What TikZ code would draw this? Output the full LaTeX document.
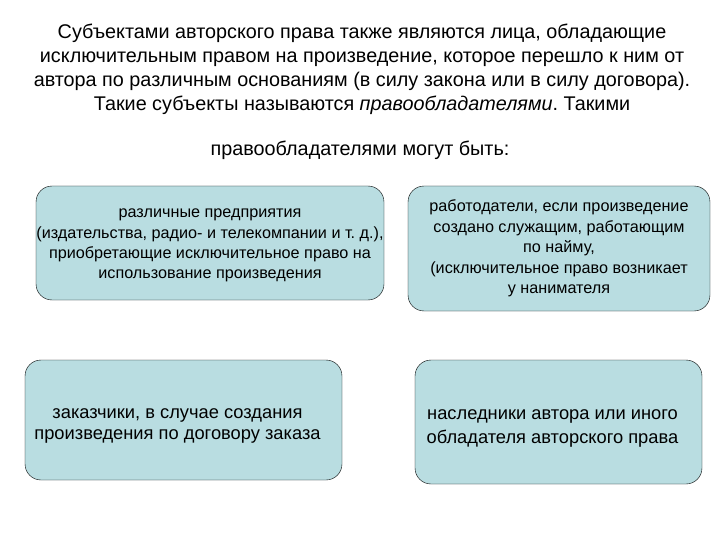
\documentclass[tikz,border=0pt]{standalone}
\usepackage{fontspec}
\setmainfont{Liberation Sans}
\usetikzlibrary{positioning}
\definecolor{boxfill}{RGB}{185,221,225}
\frenchspacing
\newcommand{\topgap}{\rule{0pt}{22pt}}
\tikzset{
  holder/.style={rounded corners=16pt, draw, fill=boxfill, inner sep=0pt, align=center},
  small/.style={font=\fontsize{16.2}{20.4}\selectfont},
  large/.style={font=\fontsize{18.3}{21.5}\selectfont}
}
\begin{document}
\begin{tikzpicture}[x=1pt,y=-1pt]
\useasboundingbox (0,0) rectangle (720,540);
% title
\node[align=center,font=\fontsize{19.8}{24}\selectfont] (T) at (362,69) {Субъектами авторского права также являются лица, обладающие\\исключительным правом на произведение, которое перешло к ним от\\автора по различным основаниям (в силу закона или в силу договора).\\Такие субъекты называются \textit{правообладателями}. Такими};
\node[font=\fontsize{19.8}{24}\selectfont] (T2) at (360,150) {правообладателями могут быть:};
% boxes
\node[holder, small, minimum width=348pt, minimum height=114pt] (predpr) at (210,243) {\rule{0pt}{14pt}различные предприятия\\(издательства, радио- и телекомпании и т. д.),\\приобретающие исключительное право на\\использование произведения};
\node[holder, small, minimum width=302pt, minimum height=125pt] (rabotod) at (559,248.5) {работодатели, если произведение\\создано служащим, работающим\\по найму,\\(исключительное право возникает\\у нанимателя};
\node[holder, large, minimum width=317pt, minimum height=120pt] (zakazch) at (183.5,420) {\topgap заказчики, в случае создания\hspace*{12pt}\\произведения по договору заказа\hspace*{12pt}};
\node[holder, large, font=\fontsize{18.3}{24}\selectfont, minimum width=287pt, minimum height=124pt] (nasled) at (558.5,422) {\topgap наследники автора или иного\hspace*{12pt}\\обладателя авторского права\hspace*{12pt}};
\end{tikzpicture}
\end{document}
